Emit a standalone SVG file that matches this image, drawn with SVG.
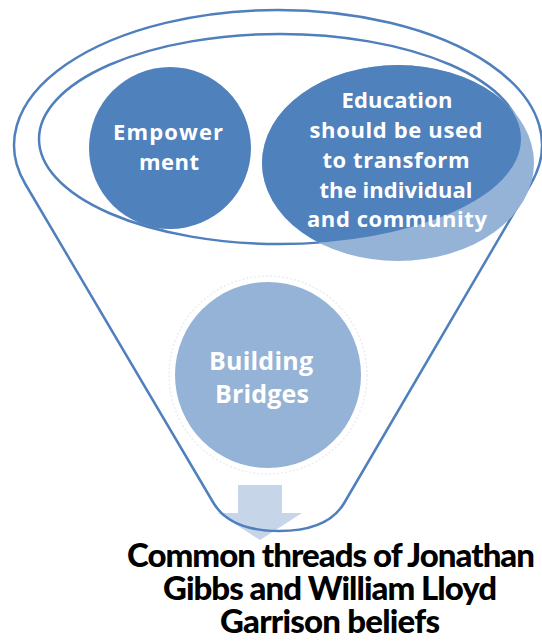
<svg xmlns="http://www.w3.org/2000/svg" width="542" height="641" viewBox="0 0 542 641">
  <style>
    .outline { fill: none; stroke: #4f7fbd; stroke-width: 2.5; stroke-linejoin: round; }
    .dark { fill: #4f81bd; }
    .light { fill: #95b3d7; }
    .halo { fill: none; stroke: #e9eef5; stroke-width: 1.5; stroke-dasharray: 2 2; }
    .wt { font-family: "Open Sans", Lato, "Liberation Sans", sans-serif; font-weight: bold; fill: #ffffff; text-anchor: middle; }
    .bt { font-family: Lato, "Open Sans", "Liberation Sans", sans-serif; font-weight: 900; fill: #000000; text-anchor: middle; font-size: 33px; }
  </style>
  <defs>
    <clipPath id="rimClip">
      <ellipse cx="280" cy="139" rx="241" ry="105"/>
    </clipPath>
  </defs>
  <rect x="0" y="0" width="542" height="641" fill="#ffffff"/>

  <g id="connectors">
    <path id="arrow-down" d="M238,485 L282,485 L282,513 L302,513 L260,540 L218,513 L238,513 Z" fill="#c6d5e8"/>
  </g>

  <g id="funnel">
    <path class="outline" d="M25.3,184 A264,135 0 1 1 530.9,183.8 L344.2,503 C333,522 312,531 279,531 C246,531 225,522 213.5,503 Z"/>
    <ellipse class="outline" cx="280" cy="139" rx="241" ry="105"/>
  </g>

  <g id="node-empowerment">
    <circle class="dark" cx="170" cy="148" r="81"/>
    <text class="wt" font-size="22" x="168" y="140" textLength="110" lengthAdjust="spacing">Empower</text>
    <text class="wt" font-size="22" x="169" y="170" textLength="60" lengthAdjust="spacing">ment</text>
  </g>

  <g id="node-education">
    <ellipse class="light" cx="398" cy="163" rx="136" ry="98"/>
    <ellipse class="dark" cx="398" cy="163" rx="136" ry="98" clip-path="url(#rimClip)"/>
    <text class="wt" font-size="22" x="397" y="108" textLength="111" lengthAdjust="spacing">Education</text>
    <text class="wt" font-size="22" x="396" y="138" textLength="173" lengthAdjust="spacing">should be used</text>
    <text class="wt" font-size="22" x="396" y="168" textLength="147" lengthAdjust="spacing">to transform</text>
    <text class="wt" font-size="22" x="396" y="198" textLength="153" lengthAdjust="spacing">the individual</text>
    <text class="wt" font-size="22" x="397" y="227" textLength="180" lengthAdjust="spacing">and community</text>
  </g>

  <g id="node-bridges">
    <circle class="halo" cx="268" cy="375" r="99"/>
    <circle class="light" cx="268" cy="375" r="93"/>
    <text class="wt" font-size="25" x="261" y="370" textLength="104" lengthAdjust="spacing">Building</text>
    <text class="wt" font-size="25" x="262" y="403" textLength="94" lengthAdjust="spacing">Bridges</text>
  </g>

  <g id="node-result">
    <text class="bt" x="331" y="567" textLength="408" lengthAdjust="spacing">Common threads of Jonathan</text>
    <text class="bt" x="330" y="600" textLength="334" lengthAdjust="spacing">Gibbs and William Lloyd</text>
    <text class="bt" x="330" y="633" textLength="220" lengthAdjust="spacing">Garrison beliefs</text>
  </g>
</svg>
